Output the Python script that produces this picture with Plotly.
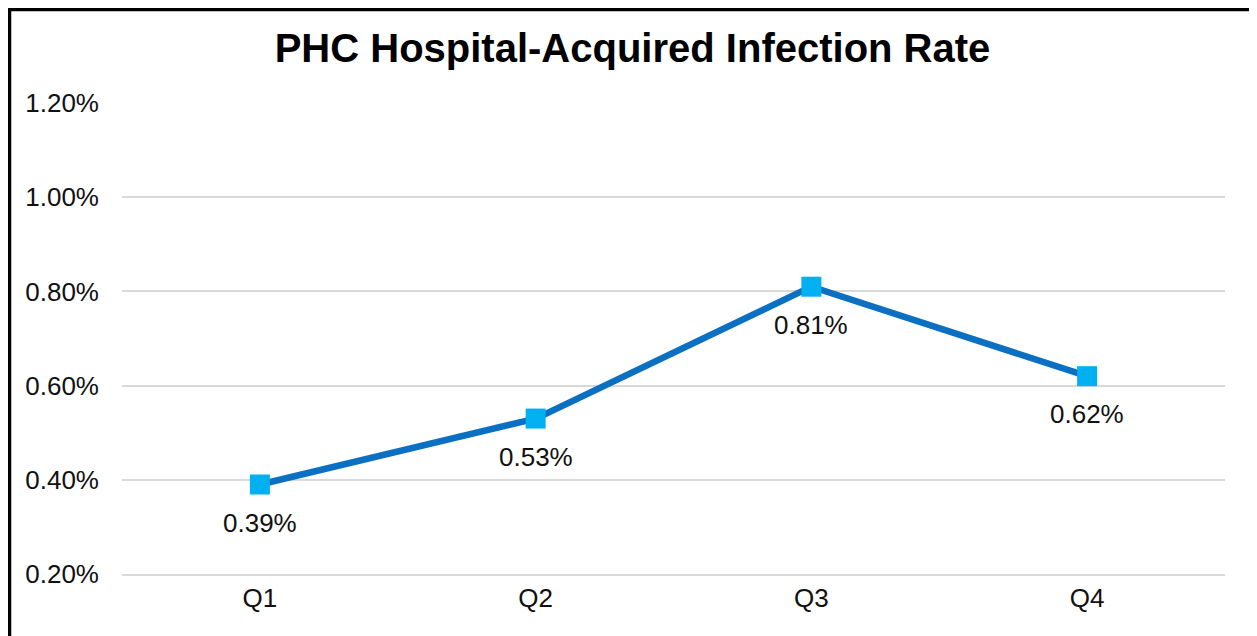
"""
PHC hospital-acquired infection rate by quarter.
"""

import plotly.graph_objects as go

quarters = ['Q1', 'Q2', 'Q3', 'Q4']
infection_rate = [0.0039, 0.0053, 0.0081, 0.0062]
rate_labels = ['0.39%', '0.53%', '0.81%', '0.62%']

# page body has an 8px default margin, so the figure is sized to the visible area
W, H = 1249, 628
L, R, T, B = 114, 32, 95, 62
pw, ph = W - L - R, H - T - B

fig = go.Figure()
fig.add_trace(go.Scatter(
    x=quarters,
    y=infection_rate,
    mode='lines+markers',
    line=dict(color='#0B6FC2', width=6.5),
    marker=dict(symbol='square', size=20, color='#00B0F0'),
    cliponaxis=False,
    hoverinfo='skip',
))

# data labels under each point
for q, v, lab in zip(quarters, infection_rate, rate_labels):
    fig.add_annotation(x=q, y=v, text=lab, showarrow=False, yshift=-38,
                       font=dict(size=26, color='#111111'))

def px_x(p):
    return (p - L) / pw

def px_y(p):
    return (H - B - p) / ph

# outer black frame
fig.add_shape(type='rect', xref='paper', yref='paper',
              x0=px_x(1.5), x1=px_x(1245), y0=px_y(640), y1=px_y(1.5),
              line=dict(color='black', width=3.5), layer='above')

fig.update_layout(
    width=W, height=H,
    margin=dict(l=L, r=R, t=T, b=B),
    paper_bgcolor='white',
    plot_bgcolor='white',
    font=dict(family='Arial, Liberation Sans, sans-serif', size=26, color='#111111'),
    title=dict(text='<b>PHC Hospital-Acquired Infection Rate</b>',
               x=0.5, xanchor='center', y=1 - 40 / H, yanchor='middle',
               font=dict(size=40, color='black')),
    showlegend=False,
)
fig.update_xaxes(range=[-0.5, 3.5], showgrid=False, showline=True,
                 linecolor='#D9D9D9', linewidth=2, ticks='', tickfont=dict(size=26))
fig.update_yaxes(range=[0.002, 0.012], dtick=0.002, tickformat='.2%',
                 showgrid=True, gridcolor='#D9D9D9', gridwidth=1.5,
                 zeroline=False, ticks='', ticklabelstandoff=22,
                 tickfont=dict(size=26))

fig.write_html("out.html")
